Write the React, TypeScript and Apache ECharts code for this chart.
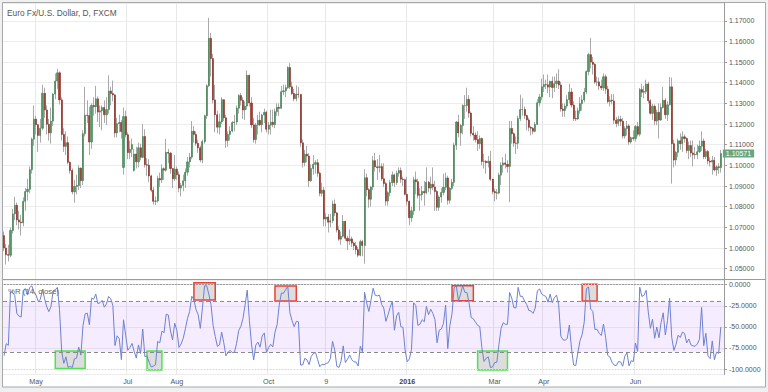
import React, { useEffect, useRef } from "react";
import * as echarts from "echarts";

const START_DATE = "2015-04-10";
const HOLIDAYS = ["2015-12-25", "2016-01-01"];
const TICK_LABELS: [string, string][] = [
  ["2015-05-01", "May"], ["2015-07-01", "Jul"], ["2015-08-03", "Aug"], ["2015-10-01", "Oct"],
  ["2015-11-09", "9"], ["2016-01-04", "2016"], ["2016-03-01", "Mar"], ["2016-04-01", "Apr"], ["2016-06-01", "Jun"],
];

const closes = [
  1.0600, 1.0568, 1.0565, 1.0685, 1.0765, 1.0807, 1.0736, 1.0726, 1.0722, 1.0826,
  1.0873, 1.0884, 1.0979, 1.1127, 1.1224, 1.1197, 1.1145, 1.1180, 1.1349, 1.1268,
  1.1199, 1.1157, 1.1214, 1.1345, 1.1408, 1.1448, 1.1317, 1.1150, 1.1092, 1.1110,
  1.1015, 1.0975, 1.0872, 1.0898, 1.0903, 1.0987, 1.0926, 1.1153, 1.1243, 1.1241,
  1.1113, 1.1290, 1.1284, 1.1322, 1.1258, 1.1264, 1.1280, 1.1245, 1.1270, 1.1360,
  1.1348, 1.1341, 1.1157, 1.1202, 1.1208, 1.1164, 1.1236, 1.1148, 1.1062, 1.1078,
  1.1101, 1.1055, 1.1017, 1.1085, 1.1039, 1.1140, 1.1003, 1.1001, 1.0949, 1.0880,
  1.0826, 1.0828, 1.0936, 1.0930, 1.0984, 1.0977, 1.1063, 1.1059, 1.0985, 1.0935,
  1.0982, 1.0955, 1.0890, 1.0903, 1.0925, 1.0967, 1.1017, 1.1040, 1.1165, 1.1150,
  1.1107, 1.1085, 1.1026, 1.1115, 1.1240, 1.1385, 1.1615, 1.1517, 1.1317, 1.1245,
  1.1185, 1.1211, 1.1318, 1.1230, 1.1120, 1.1150, 1.1166, 1.1207, 1.1210, 1.1277,
  1.1338, 1.1315, 1.1268, 1.1287, 1.1436, 1.1302, 1.1196, 1.1125, 1.1195, 1.1218,
  1.1197, 1.1244, 1.1257, 1.1175, 1.1195, 1.1209, 1.1198, 1.1260, 1.1281, 1.1276,
  1.1357, 1.1361, 1.1376, 1.1474, 1.1380, 1.1348, 1.1323, 1.1345, 1.1343, 1.1109,
  1.1014, 1.1054, 1.1045, 1.0926, 1.0985, 1.1005, 1.1013, 1.0962, 1.0865, 1.0880,
  1.0740, 1.0750, 1.0725, 1.0732, 1.0813, 1.0770, 1.0687, 1.0643, 1.0657, 1.0729,
  1.0647, 1.0634, 1.0644, 1.0624, 1.0611, 1.0592, 1.0565, 1.0631, 1.0612, 1.0940,
  1.0882, 1.0836, 1.0895, 1.1023, 1.0993, 1.0989, 1.0994, 1.0935, 1.0912, 1.0827,
  1.0868, 1.0916, 1.0954, 1.0917, 1.0962, 1.0975, 1.0933, 1.0931, 1.0860, 1.0826,
  1.0746, 1.0780, 1.0930, 1.0921, 1.0855, 1.0859, 1.0874, 1.0867, 1.0918, 1.0890,
  1.0909, 1.0895, 1.0874, 1.0797, 1.0847, 1.0869, 1.0894, 1.0939, 1.0831, 1.0889,
  1.0918, 1.1098, 1.1210, 1.1157, 1.1193, 1.1290, 1.1290, 1.1320, 1.1253, 1.1155,
  1.1147, 1.1125, 1.1105, 1.1130, 1.1019, 1.1020, 1.1013, 1.1020, 1.0933, 1.0873,
  1.0867, 1.0866, 1.0953, 1.1001, 1.1012, 1.1005, 1.0995, 1.1179, 1.1153, 1.1108,
  1.1107, 1.1227, 1.1270, 1.1271, 1.1241, 1.1220, 1.1184, 1.1180, 1.1165, 1.1198,
  1.1303, 1.1331, 1.1380, 1.1391, 1.1390, 1.1379, 1.1407, 1.1377, 1.1395, 1.1408,
  1.1389, 1.1273, 1.1266, 1.1287, 1.1318, 1.1355, 1.1292, 1.1227, 1.1225, 1.1264,
  1.1299, 1.1317, 1.1355, 1.1454, 1.1536, 1.1500, 1.1489, 1.1403, 1.1404, 1.1384,
  1.1375, 1.1429, 1.1369, 1.1309, 1.1315, 1.1312, 1.1219, 1.1203, 1.1223, 1.1214,
  1.1142, 1.1178, 1.1191, 1.1113, 1.1134, 1.1130, 1.1188, 1.1151, 1.1367, 1.1354,
  1.1358, 1.1394, 1.1313, 1.1252, 1.1286, 1.1215, 1.1257, 1.1220, 1.1280, 1.1315,
  1.1245, 1.1293, 1.1380, 1.1105, 1.1026, 1.1063, 1.1119, 1.1105, 1.1138, 1.1130,
  1.1072, 1.1096, 1.1060, 1.1053, 1.1052, 1.1066, 1.1093, 1.1118, 1.1042, 1.1067,
  1.1021, 1.1016, 1.1025, 1.0978, 1.0993, 1.0990, 1.10571,
];

const highs = [
  1.0680, 1.0620, 1.0615, 1.0700, 1.0790, 1.0848, 1.0820, 1.0780, 1.0760, 1.0845,
  1.0890, 1.0935, 1.0995, 1.1135, 1.1290, 1.1240, 1.1200, 1.1225, 1.1390, 1.1376,
  1.1290, 1.1225, 1.1280, 1.1350, 1.1445, 1.1467, 1.1455, 1.1330, 1.1180, 1.1165,
  1.1140, 1.1020, 1.0985, 1.0930, 1.0955, 1.1000, 1.0990, 1.1170, 1.1380, 1.1315,
  1.1285, 1.1300, 1.1330, 1.1385, 1.1334, 1.1290, 1.1290, 1.1315, 1.1330, 1.1436,
  1.1380, 1.1410, 1.1345, 1.1230, 1.1245, 1.1220, 1.1280, 1.1265, 1.1160, 1.1120,
  1.1130, 1.1080, 1.1090, 1.1110, 1.1105, 1.1200, 1.1175, 1.1035, 1.1030, 1.0955,
  1.0895, 1.0850, 1.0950, 1.0965, 1.1005, 1.0990, 1.1128, 1.1080, 1.1065, 1.0985,
  1.1050, 1.0995, 1.0970, 1.0915, 1.0955, 1.0985, 1.1040, 1.1060, 1.1215, 1.1190,
  1.1165, 1.1125, 1.1095, 1.1125, 1.1245, 1.1392, 1.1714, 1.1640, 1.1540, 1.1390,
  1.1265, 1.1250, 1.1330, 1.1320, 1.1245, 1.1165, 1.1190, 1.1215, 1.1245, 1.1290,
  1.1345, 1.1350, 1.1330, 1.1310, 1.1460, 1.1440, 1.1330, 1.1230, 1.1205, 1.1245,
  1.1260, 1.1250, 1.1275, 1.1265, 1.1210, 1.1270, 1.1270, 1.1275, 1.1300, 1.1300,
  1.1385, 1.1390, 1.1390, 1.1480, 1.1495, 1.1405, 1.1370, 1.1387, 1.1380, 1.1345,
  1.1125, 1.1075, 1.1095, 1.1060, 1.1005, 1.1050, 1.1025, 1.1030, 1.0970, 1.0915,
  1.0895, 1.0770, 1.0765, 1.0765, 1.0830, 1.0835, 1.0775, 1.0705, 1.0680, 1.0760,
  1.0732, 1.0660, 1.0690, 1.0655, 1.0630, 1.0630, 1.0605, 1.0640, 1.0640, 1.0981,
  1.0960, 1.0890, 1.0900, 1.1045, 1.1060, 1.1030, 1.1050, 1.1010, 1.1010, 1.0920,
  1.0875, 1.0930, 1.0970, 1.0960, 1.0975, 1.0990, 1.0990, 1.0945, 1.0935, 1.0945,
  1.0830, 1.0800, 1.0945, 1.0970, 1.0935, 1.0890, 1.0900, 1.0925, 1.0990, 1.0925,
  1.0945, 1.0990, 1.0925, 1.0880, 1.0855, 1.0890, 1.0960, 1.0965, 1.0950, 1.0895,
  1.0935, 1.1110, 1.1215, 1.1245, 1.1200, 1.1295, 1.1340, 1.1376, 1.1340, 1.1260,
  1.1190, 1.1160, 1.1165, 1.1145, 1.1135, 1.1055, 1.1025, 1.1045, 1.1070, 1.0935,
  1.0888, 1.0885, 1.0965, 1.1015, 1.1040, 1.1055, 1.1025, 1.1215, 1.1215, 1.1160,
  1.1140, 1.1240, 1.1342, 1.1325, 1.1285, 1.1245, 1.1230, 1.1190, 1.1185, 1.1210,
  1.1320, 1.1345, 1.1420, 1.1440, 1.1415, 1.1440, 1.1410, 1.1430, 1.1430, 1.1445,
  1.1465, 1.1405, 1.1300, 1.1300, 1.1340, 1.1395, 1.1375, 1.1310, 1.1265, 1.1280,
  1.1330, 1.1340, 1.1375, 1.1460, 1.1545, 1.1616, 1.1525, 1.1495, 1.1430, 1.1425,
  1.1415, 1.1445, 1.1440, 1.1385, 1.1335, 1.1345, 1.1345, 1.1235, 1.1240, 1.1240,
  1.1230, 1.1190, 1.1215, 1.1200, 1.1140, 1.1170, 1.1195, 1.1210, 1.1375, 1.1395,
  1.1385, 1.1415, 1.1405, 1.1320, 1.1298, 1.1295, 1.1270, 1.1300, 1.1300, 1.1380,
  1.1325, 1.1310, 1.1428, 1.1425, 1.1125, 1.1070, 1.1130, 1.1155, 1.1165, 1.1150,
  1.1135, 1.1115, 1.1120, 1.1120, 1.1090, 1.1100, 1.1120, 1.1165, 1.1130, 1.1080,
  1.1075, 1.1040, 1.1045, 1.1040, 1.1000, 1.1010, 1.1075,
];

const lows = [
  1.0585, 1.0520, 1.0535, 1.0555, 1.0670, 1.0735, 1.0710, 1.0690, 1.0660, 1.0705,
  1.0780, 1.0830, 1.0865, 1.0960, 1.1095, 1.1150, 1.1065, 1.1110, 1.1170, 1.1230,
  1.1150, 1.1120, 1.1105, 1.1190, 1.1320, 1.1370, 1.1295, 1.1120, 1.1065, 1.1050,
  1.1005, 1.0960, 1.0860, 1.0819, 1.0860, 1.0880, 1.0890, 1.0905, 1.1140, 1.1205,
  1.1050, 1.1080, 1.1240, 1.1250, 1.1210, 1.1185, 1.1170, 1.1205, 1.1195, 1.1250,
  1.1290, 1.1310, 1.1135, 1.1135, 1.1160, 1.1130, 1.0955, 1.1135, 1.1030, 1.1030,
  1.1040, 1.0970, 1.0985, 1.0990, 1.1025, 1.1035, 1.0990, 1.0950, 1.0920, 1.0870,
  1.0810, 1.0808, 1.0820, 1.0895, 1.0915, 1.0930, 1.0970, 1.1010, 1.0960, 1.0890,
  1.0925, 1.0930, 1.0870, 1.0850, 1.0875, 1.0890, 1.0950, 1.0990, 1.1030, 1.1110,
  1.1095, 1.1060, 1.1015, 1.1010, 1.1105, 1.1225, 1.1380, 1.1430, 1.1300, 1.1160,
  1.1155, 1.1150, 1.1200, 1.1215, 1.1085, 1.1090, 1.1120, 1.1160, 1.1165, 1.1195,
  1.1250, 1.1290, 1.1225, 1.1220, 1.1270, 1.1285, 1.1180, 1.1110, 1.1105, 1.1150,
  1.1190, 1.1160, 1.1205, 1.1160, 1.1150, 1.1150, 1.1185, 1.1180, 1.1240, 1.1240,
  1.1275, 1.1340, 1.1330, 1.1370, 1.1370, 1.1340, 1.1310, 1.1310, 1.1325, 1.1090,
  1.0990, 1.0995, 1.1015, 1.0895, 1.0920, 1.0955, 1.0960, 1.0945, 1.0850, 1.0850,
  1.0705, 1.0705, 1.0675, 1.0700, 1.0720, 1.0755, 1.0675, 1.0635, 1.0615, 1.0650,
  1.0635, 1.0590, 1.0615, 1.0605, 1.0590, 1.0570, 1.0555, 1.0560, 1.0560, 1.0524,
  1.0850, 1.0795, 1.0800, 1.0880, 1.0970, 1.0930, 1.0965, 1.0925, 1.0895, 1.0805,
  1.0805, 1.0850, 1.0900, 1.0895, 1.0905, 1.0945, 1.0915, 1.0900, 1.0855, 1.0805,
  1.0710, 1.0725, 1.0760, 1.0860, 1.0840, 1.0780, 1.0830, 1.0805, 1.0860, 1.0870,
  1.0860, 1.0880, 1.0780, 1.0780, 1.0780, 1.0820, 1.0855, 1.0880, 1.0810, 1.0815,
  1.0880, 1.0900, 1.1075, 1.1135, 1.1095, 1.1150, 1.1225, 1.1260, 1.1230, 1.1140,
  1.1120, 1.1110, 1.1070, 1.1080, 1.1000, 1.0985, 1.0960, 1.0990, 1.0925, 1.0860,
  1.0825, 1.0835, 1.0860, 1.0905, 1.0965, 1.0985, 1.0965, 1.0822, 1.1105, 1.1090,
  1.1055, 1.1080, 1.1215, 1.1240, 1.1225, 1.1170, 1.1165, 1.1145, 1.1150, 1.1160,
  1.1195, 1.1285, 1.1315, 1.1355, 1.1370, 1.1350, 1.1330, 1.1325, 1.1355, 1.1375,
  1.1370, 1.1260, 1.1235, 1.1235, 1.1275, 1.1300, 1.1280, 1.1215, 1.1215, 1.1220,
  1.1250, 1.1265, 1.1305, 1.1345, 1.1435, 1.1470, 1.1440, 1.1395, 1.1385, 1.1365,
  1.1365, 1.1360, 1.1345, 1.1300, 1.1285, 1.1295, 1.1200, 1.1185, 1.1190, 1.1190,
  1.1130, 1.1130, 1.1145, 1.1100, 1.1105, 1.1120, 1.1115, 1.1140, 1.1140, 1.1330,
  1.1325, 1.1345, 1.1300, 1.1245, 1.1220, 1.1195, 1.1195, 1.1130, 1.1215, 1.1275,
  1.1225, 1.1215, 1.1290, 1.0912, 1.0990, 1.1000, 1.1040, 1.1075, 1.1065, 1.1110,
  1.1060, 1.1030, 1.1040, 1.0995, 1.1030, 1.1030, 1.1060, 1.1070, 1.1030, 1.1030,
  1.1005, 1.0995, 1.0955, 1.0970, 1.0950, 1.0960, 1.0965,
];

// opening prices that differ from the previous close (first bar and weekend gaps)
const openOverrides: Record<number, number> = { 0: 1.066, 56: 1.099, 61: 1.0975 };
const LAST_PRICE = 1.10571;

const WR_PERIOD = 14;
const WR_UPPER = -20;
const WR_LOWER = -80;
// highlighted zones in the %R pane
const zoneFrom = [24, 67, 89, 127, 210, 222, 271];
const zoneTo = [38, 74, 99, 137, 220, 236, 278];
const zoneTop = [-78.6, -78.6, 2.4, -1.5, -1.2, -78.6, 0.5];
const zoneBottom = [-99.3, -101.2, -18.1, -19.3, -19.0, -101.2, -19.3];
const zoneKind = ["os", "os", "ob", "ob", "ob", "os", "ob"];

function buildDates(n: number): string[] {
  const out: string[] = [];
  const d = new Date(START_DATE + "T00:00:00Z");
  while (out.length < n) {
    const wd = d.getUTCDay();
    const s = d.toISOString().slice(0, 10);
    if (wd !== 0 && wd !== 6 && !HOLIDAYS.includes(s)) out.push(s);
    d.setUTCDate(d.getUTCDate() + 1);
  }
  return out;
}

const FONT = "'Liberation Sans', Arial, sans-serif";

export default function App() {
  const ref = useRef<HTMLDivElement>(null);
  useEffect(() => {
    if (!ref.current) return;
    const chart = echarts.init(ref.current, undefined, { renderer: "svg" });
    const n = closes.length;
    const dates = buildDates(n + 1);
    const tickMap = new Map(TICK_LABELS);
    const opens = closes.map((c, i) => (openOverrides[i] !== undefined ? openOverrides[i] : closes[i - 1]));
    const full = closes.map((c, i) => [opens[i], c, lows[i], highs[i]]);
    const bodies = closes.map((c, i) => [opens[i], c, Math.min(opens[i], c), Math.max(opens[i], c)]);
    const wr = closes.map((c, i) => {
      const s = Math.max(0, i - WR_PERIOD + 1);
      const hh = Math.max(...highs.slice(s, i + 1));
      const ll = Math.min(...lows.slice(s, i + 1));
      return hh === ll ? -50 : (100 * (c - hh)) / (hh - ll);
    });
    const showTick = (idx: number, val: string) => tickMap.has(val);
    const zones = zoneFrom.map((f, k) => [
      {
        xAxis: dates[f],
        yAxis: zoneTop[k],
        itemStyle: {
          color: "rgba(150,150,150,0.32)",
          borderColor: zoneKind[k] === "ob" ? "#ec4034" : "#52e052",
          borderWidth: 1.5,
        },
      },
      { xAxis: dates[zoneTo[k]], yAxis: zoneBottom[k] },
    ]);

    const option: any = {
      animation: false,
      backgroundColor: "#eef0f2",
      textStyle: { fontFamily: FONT },
      graphic: [
        {
          type: "rect",
          z: -10,
          shape: { x: 2.5, y: 2.5, width: 763, height: 384.5 },
          style: { fill: "#ffffff", stroke: "#a8a8a8", lineWidth: 1 },
        },
        {
          type: "line",
          z: 10,
          shape: { x1: 3, y1: 279.5, x2: 766, y2: 279.5 },
          style: { stroke: "#9c9c9c", lineWidth: 1 },
        },
      ],
      title: [
        {
          text: "Euro Fx/U.S. Dollar, D, FXCM",
          left: 7,
          top: 9,
          padding: 0,
          textStyle: { fontSize: 8.3, fontWeight: "normal", color: "#555555", fontFamily: FONT },
        },
        {
          text: "%R (14, close)",
          left: 8,
          top: 287,
          padding: 0,
          textStyle: { fontSize: 7.8, fontWeight: "normal", color: "#666666", fontFamily: FONT },
        },
      ],
      grid: [
        { left: 3, top: 3, width: 721, height: 276 },
        { left: 3, top: 280, width: 721, height: 94.5 },
      ],
      xAxis: [
        {
          type: "category",
          gridIndex: 0,
          data: dates,
          boundaryGap: true,
          axisLine: { show: false },
          axisTick: { show: false },
          axisLabel: { show: false },
          splitLine: { show: true, interval: showTick, lineStyle: { color: "#e8e8e8", width: 1 } },
        },
        {
          type: "category",
          gridIndex: 1,
          data: dates,
          boundaryGap: true,
          axisLine: { show: true, lineStyle: { color: "#9c9c9c" } },
          axisTick: { show: false },
          axisLabel: {
            show: true,
            interval: showTick,
            margin: 3,
            fontSize: 7.2,
            color: "#555555",
            fontFamily: FONT,
            formatter: (v: string) => {
              const t = tickMap.get(v) || "";
              return /^\d{4}$/.test(t) ? "{b|" + t + "}" : t;
            },
            rich: { b: { fontWeight: "bold", fontSize: 7.2, color: "#444444", fontFamily: FONT } },
          },
          splitLine: { show: true, interval: showTick, lineStyle: { color: "#e8e8e8", width: 1 } },
        },
      ],
      yAxis: [
        {
          type: "value",
          gridIndex: 0,
          position: "right",
          min: 1.045,
          max: 1.1786,
          minInterval: 0.01,
          maxInterval: 0.01,
          splitNumber: 13,
          axisLine: { show: true, lineStyle: { color: "#9c9c9c" } },
          axisTick: { show: true, length: 3, lineStyle: { color: "#9c9c9c" } },
          axisLabel: {
            showMinLabel: false,
            showMaxLabel: false,
            margin: 5,
            fontSize: 7,
            lineHeight: 7,
            color: "#555555",
            fontFamily: FONT,
            formatter: (v: number) => v.toFixed(5),
          },
          splitLine: { show: true, lineStyle: { color: "#ececec", width: 1 } },
        },
        {
          type: "value",
          gridIndex: 1,
          position: "right",
          min: -106.5,
          max: 5.6,
          minInterval: 25,
          maxInterval: 25,
          splitNumber: 4,
          axisLine: { show: true, lineStyle: { color: "#9c9c9c" } },
          axisTick: { show: true, length: 3, lineStyle: { color: "#9c9c9c" } },
          axisLabel: {
            showMinLabel: false,
            showMaxLabel: false,
            margin: 5,
            fontSize: 7,
            color: "#555555",
            fontFamily: FONT,
            formatter: (v: number) => v.toFixed(4),
          },
          splitLine: { show: true, lineStyle: { color: "#ededed", width: 1 } },
        },
      ],
      series: [
        {
          type: "candlestick",
          name: "wicks",
          xAxisIndex: 0,
          yAxisIndex: 0,
          data: full,
          barWidth: 1,
          itemStyle: {
            color: "#aaaaaa",
            color0: "#aaaaaa",
            borderColor: "#aaaaaa",
            borderColor0: "#aaaaaa",
            borderWidth: 1,
          },
          silent: true,
        },
        {
          type: "candlestick",
          name: "EURUSD",
          xAxisIndex: 0,
          yAxisIndex: 0,
          data: bodies,
          barWidth: 1.6,
          itemStyle: {
            color: "#539c69",
            color0: "#a8392d",
            borderColor: "#3f7d52",
            borderColor0: "#862b21",
            borderWidth: 0.6,
          },
          silent: true,
          markPoint: {
            silent: true,
            symbol: "rect",
            symbolSize: [0.1, 0.1],
            itemStyle: { color: "rgba(0,0,0,0)" },
            data: [{ coord: [dates[n - 1], LAST_PRICE], value: LAST_PRICE }],
            label: {
              show: true,
              position: "right",
              distance: 2,
              formatter: () => LAST_PRICE.toFixed(5),
              color: "#ffffff",
              backgroundColor: "#6ba57e",
              padding: [0, 3, 0, 3],
              lineHeight: 8,
              fontSize: 7,
              fontFamily: FONT,
            },
          },
        },
        {
          type: "line",
          name: "%R",
          xAxisIndex: 1,
          yAxisIndex: 1,
          data: wr,
          symbol: "none",
          lineStyle: { color: "#6f80d0", width: 1 },
          silent: true,
          markArea: {
            silent: true,
            data: [
              [
                { yAxis: WR_UPPER, itemStyle: { color: "rgba(175,105,255,0.12)" } },
                { yAxis: WR_LOWER },
              ],
              ...zones,
            ],
          },
          markLine: {
            silent: true,
            symbol: ["none", "none"],
            label: { show: false },
            data: [
              { yAxis: WR_UPPER, lineStyle: { color: "#8a8a8a", type: [4, 3], width: 1 } },
              { yAxis: WR_LOWER, lineStyle: { color: "#8a8a8a", type: [4, 3], width: 1 } },
              { yAxis: 0, lineStyle: { color: "#d6d6d6", type: [1, 2], width: 1 } },
              { yAxis: -100, lineStyle: { color: "#d6d6d6", type: [1, 2], width: 1 } },
            ],
          },
        },
      ],
    };
    chart.setOption(option);
    return () => chart.dispose();
  }, []);
  return (
    <div
      ref={ref}
      style={{ position: "fixed", left: 0, top: 0, width: 768, height: 392 }}
    />
  );
}
